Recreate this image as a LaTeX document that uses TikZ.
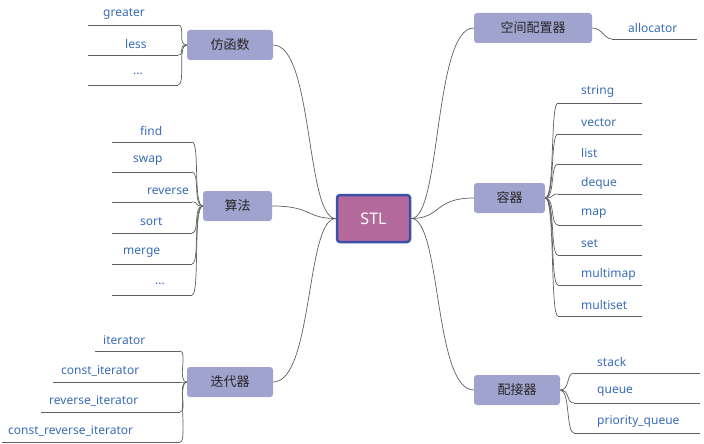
\documentclass[tikz,border=0pt]{standalone}
\usepackage{fontspec}
\setmainfont{Noto Sans}
\newfontfamily\cjk{Noto Sans CJK SC}
\begin{document}
\begin{tikzpicture}[x=1pt,y=-1pt,
  br/.style={fill=brfill,rounded corners=3pt,minimum height=30pt,inner xsep=8pt,font=\cjk\fontsize{13}{15}\selectfont,text=black!85},
  lf/.style={anchor=west,inner sep=0pt,text=leafc,font=\fontsize{12}{14}\selectfont},
  con/.style={draw=linec,line width=0.7pt},
  ul/.style={draw=linec,line width=0.7pt}]
\definecolor{brfill}{HTML}{A0A3CE}
\definecolor{leafc}{HTML}{3A6CB8}
\definecolor{linec}{HTML}{606060}
\definecolor{stlfill}{HTML}{B4699C}
\definecolor{stlline}{HTML}{3D4FA8}
\useasboundingbox[fill=white] (0,0) rectangle (704,444);
% center
\node[fill=stlfill,draw=stlline,line width=2.5pt,rounded corners=3pt,minimum width=73pt,minimum height=47pt,font=\fontsize{16}{18}\selectfont,text=white] (stl) at (373.5,218.5) {STL};
% branches
\node[br,minimum width=86pt] (fh) at (230,45) {仿函数};
\node[br,minimum width=69pt] (sf) at (237.5,206) {算法};
\node[br,minimum width=86pt] (dd) at (230,382) {迭代器};
\node[br,minimum width=118pt] (kj) at (533,28) {空间配置器};
\node[br,minimum width=71pt] (rq) at (509.5,198) {容器};
\node[br,minimum width=86pt] (pj) at (517,390) {配接器};
% STL connectors
\foreach \b in {fh,sf,dd} \draw[con] (stl.west) .. controls +(-30,0) and +(40,0) .. (\b.east);
\foreach \b in {kj,rq,pj} \draw[con] (stl.east) .. controls +(30,0) and +(-40,0) .. (\b.west);
% leaves: name, text-left-x, y, text, underline-left, underline-right, branch
\newcommand{\leafL}[7]{\node[lf] (#1) at (#2,#3) {#4};
  \coordinate (#1-a) at (#5,#3+11); \coordinate (#1-b) at (#6,#3+11);
  \draw[ul] (#1-a) -- (#1-b);
  \draw[con] (#7.west) .. controls +(-10,0) and +(8,0) .. (#1-b);}
\newcommand{\leafR}[7]{\node[lf] (#1) at (#2,#3) {#4};
  \coordinate (#1-a) at (#5,#3+11); \coordinate (#1-b) at (#6,#3+11);
  \draw[ul] (#1-a) -- (#1-b);
  \draw[con] (#7.east) .. controls +(10,0) and +(-8,0) .. (#1-a);}
\leafL{g1}{103}{14}{greater}{88}{178}{fh}
\leafL{g2}{125}{44}{less}{88}{178}{fh}
\leafL{g3}{133}{74}{...}{88}{178}{fh}
\leafL{a1}{140}{131}{find}{112}{192}{sf}
\leafL{a2}{133}{161}{swap}{112}{192}{sf}
\leafL{a3}{147}{191}{reverse}{112}{192}{sf}
\leafL{a4}{140}{222}{sort}{112}{192}{sf}
\leafL{a5}{123}{253}{merge}{112}{192}{sf}
\leafL{a6}{155}{284}{...}{112}{192}{sf}
\leafL{i1}{103}{340}{iterator}{95}{180}{dd}
\leafL{i2}{61}{371}{const\_iterator}{53}{180}{dd}
\leafL{i3}{49}{401}{reverse\_iterator}{41}{180}{dd}
\leafL{i4}{8}{431}{const\_reverse\_iterator}{2}{180}{dd}
\leafR{k1}{628}{28}{allocator}{612}{697}{kj}
\leafR{c1}{581}{92}{string}{558}{642}{rq}
\leafR{c2}{581}{123}{vector}{558}{642}{rq}
\leafR{c3}{581}{153}{list}{558}{642}{rq}
\leafR{c4}{581}{183}{deque}{558}{642}{rq}
\leafR{c5}{581}{214}{map}{558}{642}{rq}
\leafR{c6}{581}{244}{set}{558}{642}{rq}
\leafR{c7}{581}{274}{multimap}{558}{642}{rq}
\leafR{c8}{581}{305}{multiset}{558}{642}{rq}
\leafR{p1}{597}{362}{stack}{574}{700}{pj}
\leafR{p2}{597}{392}{queue}{574}{700}{pj}
\leafR{p3}{597}{422}{priority\_queue}{574}{700}{pj}
\end{tikzpicture}
\end{document}
